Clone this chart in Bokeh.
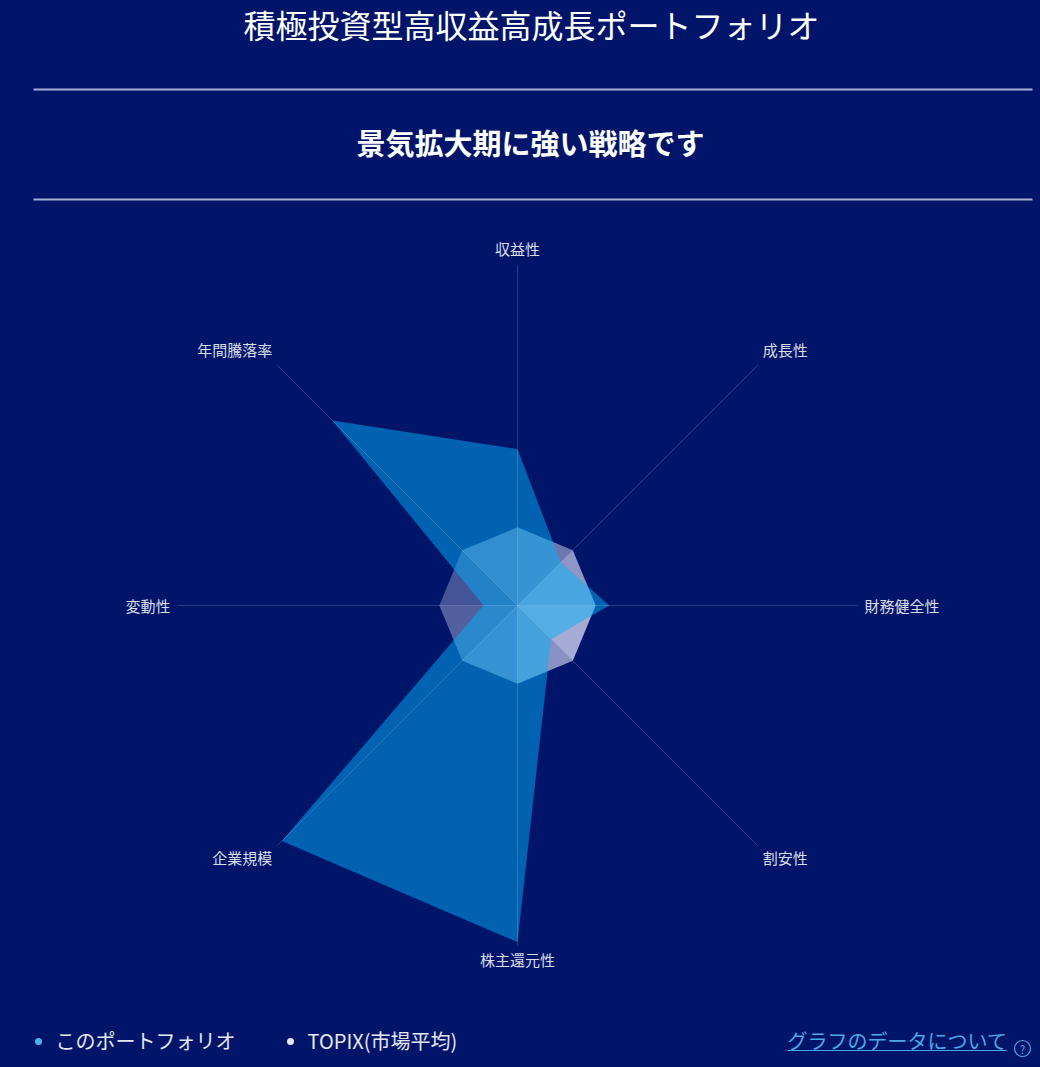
import math
from bokeh.plotting import figure
from bokeh.models import Range1d, ColumnDataSource
from bokeh.core.properties import value
from bokeh.embed import file_html
from bokeh.resources import INLINE

# ---------------- data ----------------
title_text = "積極投資型高収益高成長ポートフォリオ"
subtitle_text = "景気拡大期に強い戦略です"
axis_names = ["収益性", "成長性", "財務健全性", "割安性", "株主還元性", "企業規模", "変動性", "年間騰落率"]
portfolio = [46, 18, 27, 14, 99, 98, 10, 77]
topix = [23, 23, 23, 23, 23, 23, 23, 23]
axis_max = 100
series_names = ["このポートフォリオ", "TOPIX(市場平均)"]
link_text = "グラフのデータについて"

# ---------------- style ----------------
BG = "#00156a"
FONT = "Noto Sans CJK JP"
PORT_COLOR = "#00b4f8"
PORT_ALPHA = 0.49
TOPIX_COLOR = "#e6e6ff"
topix_sector_alpha = [0.47, 0.62, 0.72, 0.60, 0.47, 0.36, 0.30, 0.42]
LABEL_COLOR = "#dcdce6"
LINK_COLOR = "#4aa8e8"

W, H = 1040, 1067
OX, OY = 0, 0           # figure origin on the page
CX, CY = 517, 605       # radar centre (page px)
R = 340                 # radar radius (px)
LABEL_R = 347
TOP_LABEL_SHIFT = 4     # lift labels hanging below their anchor

def sx(X):
    return X - CX

def sy(Y):
    return CY - Y

p = figure(width=W, height=H,
           x_range=Range1d(OX - CX, OX + W - CX),
           y_range=Range1d(CY - (OY + H), CY - OY),
           x_axis_type=None, y_axis_type=None,
           output_backend="svg", toolbar_location=None,
           min_border=0, background_fill_color=BG,
           border_fill_color=BG, outline_line_color=None)
p.grid.visible = False

n = len(axis_names)
angles = [math.pi / 2 - i * 2 * math.pi / n for i in range(n)]

def pts(vals):
    xs = [v / axis_max * R * math.cos(a) for v, a in zip(vals, angles)]
    ys = [v / axis_max * R * math.sin(a) for v, a in zip(vals, angles)]
    return xs, ys

# TOPIX: faceted sectors
tx, ty = pts(topix)
sec_xs, sec_ys = [], []
for i in range(n):
    j = (i + 1) % n
    sec_xs.append([0, tx[i], tx[j]])
    sec_ys.append([0, ty[i], ty[j]])
p.patches(xs="xs", ys="ys",
          source=ColumnDataSource(dict(xs=sec_xs, ys=sec_ys, a=topix_sector_alpha)),
          fill_color=TOPIX_COLOR, fill_alpha="a", line_color=None)

# portfolio polygon
px_, py_ = pts(portfolio)
p.patch(px_, py_, fill_color=PORT_COLOR, fill_alpha=PORT_ALPHA, line_color=None)

# axis spokes
ex = [R * math.cos(a) for a in angles]
ey = [R * math.sin(a) for a in angles]
p.segment(x0=[0] * n, y0=[0] * n, x1=ex, y1=ey,
          line_color="white", line_alpha=0.16, line_width=1)

# axis labels
lx, ly, aligns, bases = [], [], [], []
for a in angles:
    c, s = math.cos(a), math.sin(a)
    al = "left" if c > 0.01 else ("right" if c < -0.01 else "center")
    bl = "bottom" if s > 0.01 else ("top" if s < -0.01 else "middle")
    aligns.append(al)
    bases.append(bl)
    lx.append(LABEL_R * c)
    ly.append(LABEL_R * s + (TOP_LABEL_SHIFT if bl == "top" else 0))
p.text(x="x", y="y", text="t", text_align="al", text_baseline="bl",
       source=ColumnDataSource(dict(x=lx, y=ly, t=axis_names, al=aligns, bl=bases)),
       text_font=value(FONT), text_font_size="15px", text_color=LABEL_COLOR)

# title & subtitle
p.text(x=[sx(531)], y=[sy(23)], text=[title_text], text_align="center",
       text_baseline="middle", text_font=value(FONT), text_font_size="32px",
       text_color="white")
p.text(x=[sx(530)], y=[sy(141)], text=[subtitle_text], text_align="center",
       text_baseline="middle", text_font=value(FONT), text_font_size="29px",
       text_font_style="bold", text_color="white")

# separator lines
p.segment(x0=[sx(33), sx(33)], y0=[sy(89), sy(199)],
          x1=[sx(1032), sx(1032)], y1=[sy(89), sy(199)],
          line_color="#a9aed3", line_width=2)

# legend
p.scatter(x=[sx(38), sx(290)], y=[sy(1041), sy(1041)], size=7,
          fill_color=["#4fb3f0", "#e6e6f0"], line_color=None)
p.text(x=[sx(55), sx(307)], y=[sy(1040), sy(1040)], text=series_names,
       text_align="left", text_baseline="middle", text_font=value(FONT),
       text_font_size="20px", text_color="#e6e6f0")

# data link
p.text(x=[sx(787)], y=[sy(1040)], text=[link_text], text_align="left",
       text_baseline="middle", text_font=value(FONT), text_font_size="20px",
       text_color=LINK_COLOR)
p.segment(x0=[sx(787)], y0=[sy(1050)], x1=[sx(1006)], y1=[sy(1050)],
          line_color=LINK_COLOR, line_width=1)
p.scatter(x=[sx(1022)], y=[sy(1048)], size=16, fill_color=None,
          line_color=LINK_COLOR, line_width=1.2)
p.text(x=[sx(1022)], y=[sy(1048)], text=["?"], text_align="center",
       text_baseline="middle", text_font=value(FONT), text_font_size="11px",
       text_color=LINK_COLOR)

open("out.html", "w").write(
    file_html(p, INLINE).replace(
        "</head>",
        "<style>html,body{background:#00156a;margin:0;padding:0;overflow:hidden;}</style></head>",
        1))
